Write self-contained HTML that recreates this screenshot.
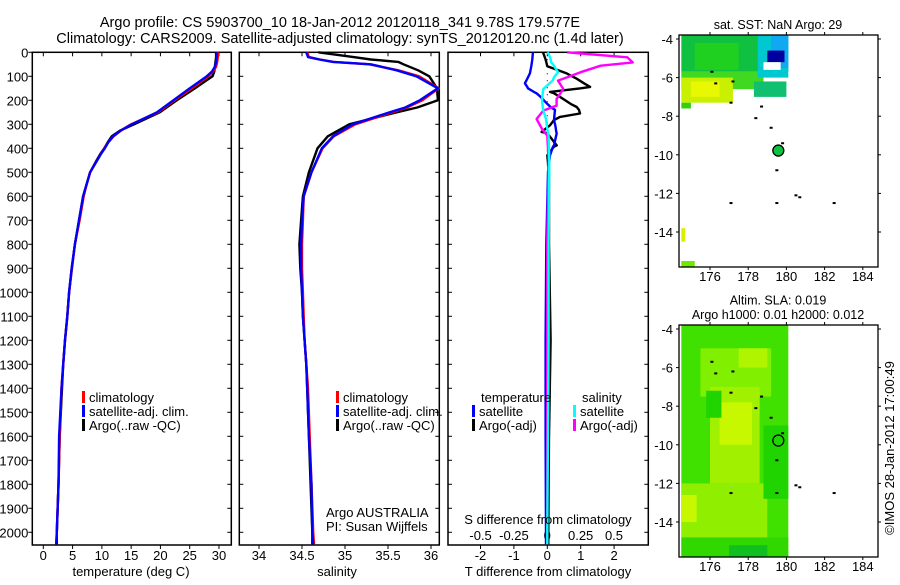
<!DOCTYPE html>
<html><head><meta charset="utf-8">
<style>
html,body{margin:0;padding:0;background:#fff;}
body{width:900px;height:580px;overflow:hidden;font-family:"Liberation Sans",sans-serif;}
svg text{font-family:"Liberation Sans",sans-serif;fill:#000;}
</style></head>
<body>
<svg id="fig" width="900" height="580" viewBox="0 0 900 580" xmlns="http://www.w3.org/2000/svg">
<text x="340" y="27" font-size="14.5" text-anchor="middle">Argo profile: CS 5903700_10 18-Jan-2012 20120118_341 9.78S 179.577E</text>
<text x="340" y="43" font-size="14.5" text-anchor="middle">Climatology: CARS2009. Satellite-adjusted climatology: synTS_20120120.nc (1.4d later)</text>
<g id="g1"></g>
<g id="g2"></g>
<g id="g3"></g>
<g id="m1"></g>
<g id="m2"></g>
<text transform="translate(894,448) rotate(-90)" font-size="13" text-anchor="middle">©IMOS 28-Jan-2012 17:00:49</text>
</svg>
<script>
// ---- data ----
const depthTicks = [0,100,200,300,400,500,600,700,800,900,1000,1100,1200,1300,1400,1500,1600,1700,1800,1900,2000];
const depths = [0,20,40,60,80,100,150,200,250,300,325,350,375,400,425,450,500,550,600,700,800,900,1000,1100,1200,1300,1400,1600,1800,2000,2050];
const tempSat = [29.6,29.6,29.5,29.3,28.8,27.9,25.0,22.2,19.4,15.1,13.3,11.9,11.1,10.5,9.8,9.2,8.0,7.4,6.8,6.1,5.4,4.85,4.4,4.1,3.7,3.4,3.1,2.7,2.6,2.3,2.2];
const tempClim = [29.8,29.8,29.7,29.5,29.0,28.2,25.4,22.4,19.6,15.0,13.3,12.0,11.1,10.4,9.8,9.2,8.0,7.4,6.9,6.2,5.4,4.9,4.4,4.1,3.7,3.4,3.1,2.8,2.6,2.3,2.2];
const tempArgo = [29.5,29.5,29.4,29.3,29.2,28.9,25.9,22.8,19.9,15.5,13.2,11.7,11.0,10.4,9.7,9.1,8.0,7.4,6.8,6.1,5.4,4.85,4.4,4.1,3.7,3.4,3.2,2.8,2.6,2.3,2.3];
const salDepths = [0,20,30,40,50,75,100,150,200,230,250,300,350,400,500,600,700,800,900,1000,1100,1200,1300,1400,1600,1800,2000,2050];
const salSat = [34.55,34.57,34.7,34.86,35.3,35.6,35.83,36.08,35.87,35.7,35.52,35.09,34.86,34.73,34.61,34.52,34.50,34.49,34.49,34.50,34.51,34.53,34.55,34.56,34.58,34.61,34.62,34.63];
const salClim = [34.56,34.58,34.71,34.87,35.28,35.62,35.86,36.09,35.9,35.72,35.55,35.12,34.87,34.74,34.61,34.52,34.51,34.50,34.50,34.51,34.52,34.53,34.55,34.57,34.59,34.61,34.63,34.64];
const salArgo = [34.69,35.1,35.3,35.62,35.68,35.85,35.98,36.07,36.08,35.84,35.6,35.05,34.8,34.68,34.58,34.51,34.49,34.47,34.48,34.50,34.51,34.53,34.55,34.56,34.58,34.60,34.62,34.62];
const diffDepths = [0,30,58,88,110,129,144,150,165,171,186,215,228,240,255,269,282,304,332,337,388,393,429,504,800,1200,1600,2000,2050];
const tDiffSat = [-0.43,-0.45,-0.48,-0.52,-0.6,-0.67,-0.6,-0.58,-0.4,-0.32,-0.2,0,0.1,0.23,0.22,0.21,0.2,0.24,0.27,0.28,0.2,0.17,0.08,0.02,-0.03,-0.05,-0.05,-0.04,-0.04];
const tDiffArgo = [-0.13,-0.05,0,0.58,0.88,1.1,1.28,1.0,0.08,0.2,0.38,0.7,0.88,0.95,0.98,0.38,0.2,0.08,-0.17,0.0,0.28,0.2,0.0,0.05,0.05,0.1,0.05,0.03,0.03];
const sDiffDepths = [0,7,21,42,56,83,104,118,153,194,222,243,278,319,347,450,800,1200,2000,2050];
const sDiffArgo = [0.15,0.3,0.6,0.64,0.4,0.25,0.15,0.08,0.12,0.07,0.07,-0.03,-0.08,-0.04,0,0.01,0.0,0.0,0.0,0.0];
const sDiffSat = [0,0.01,0.02,0.03,0.05,0.08,0.05,0.04,-0.03,-0.04,-0.035,-0.03,-0.01,0,0.01,0.015,0.01,0.01,0.0,0.0];
const tTicks1 = [0,5,10,15,20,25,30];
const sTicks2 = [34,34.5,35,35.5,36];
const sTickLabels2 = ["34","34.5","35","35.5","36"];
const tTicks3 = [-2,-1,0,1,2];
const sTicks3 = [-0.5,-0.25,0,0.25,0.5];
const sTickLabels3 = ["-0.5","-0.25","0","0.25","0.5"];
const lonTicks = [176,178,180,182,184];
const latTicks = [-4,-6,-8,-10,-12,-14];

const NS = "http://www.w3.org/2000/svg";
function mk(parent, tag, attrs, txt){
  const e = document.createElementNS(NS, tag);
  for (const k in attrs) e.setAttribute(k, attrs[k]);
  if (txt !== undefined) e.textContent = txt;
  parent.appendChild(e);
  return e;
}
const TOP = 52.3, BOT = 545;
function yD(d){ return TOP + d*0.24; }

function frame(g, x0, x1, name){
  const r = mk(g,'rect',{x:x0,y:TOP,width:x1-x0,height:BOT-TOP,fill:'none',stroke:'#000','stroke-width':1.5});
  
  
}
function depthTickMarks(g, x0, x1, labels){
  depthTicks.forEach(d=>{
    const y = yD(d);
    const t = mk(g,'line',{x1:x1-4,y1:y,x2:x1,y2:y,stroke:'#000','stroke-width':1});
    
    
    const t2 = mk(g,'line',{x1:x0,y1:y,x2:x0+(labels?0:4),y2:y,stroke:'#000','stroke-width':1});
    
    
    if (labels){
      const o = mk(g,'line',{x1:x0-4,y1:y,x2:x0,y2:y,stroke:'#000','stroke-width':1});
      
      
      const l = mk(g,'text',{x:x0-4,y:y+5,'font-size':13,'text-anchor':'end'}, String(d));
      
      
    }
  });
}
function xTicks(g, vals, labels, fx, yLab){
  vals.forEach((v,i)=>{
    const x = fx(v);
    const a = mk(g,'line',{x1:x,y1:TOP,x2:x,y2:TOP+4,stroke:'#000'});
    
    
    const b = mk(g,'line',{x1:x,y1:BOT,x2:x,y2:BOT+4,stroke:'#000'});
    
    
    const l = mk(g,'text',{x:x,y:yLab,'font-size':13,'text-anchor':'middle'}, labels[i]);
    
    
  });
}
function line(g, xs, ds, fx, color, name, w){
  const pts = xs.map((v,i)=> fx(v).toFixed(1)+','+yD(ds[i]).toFixed(1)).join(' ');
  const p = mk(g,'polyline',{points:pts,fill:'none',stroke:color,'stroke-width':w||2.4,'stroke-linejoin':'round'});
  
  
}
function legend(g, x, y, color, label){
  const b = mk(g,'rect',{x:x,y:y-11,width:3,height:12,fill:color});
  
  
  const t = mk(g,'text',{x:x+7,y:y,'font-size':13}, label);
  
  
}

// Panel 1: temperature
const g1 = document.getElementById('g1');
const fx1 = v => 43.3 + v*5.856;
frame(g1, 32.3, 231.3, 'temperature-frame');
depthTickMarks(g1, 32.3, 231.3, true);
xTicks(g1, tTicks1, tTicks1.map(String), fx1, 560);
line(g1, tempArgo, depths, fx1, '#000', 'temperature-argo-line');
line(g1, tempClim, depths, fx1, '#f00', 'temperature-climatology-line');
line(g1, tempSat, depths, fx1, '#00f', 'temperature-satellite-line');
legend(g1, 82, 402, '#f00', 'climatology');
legend(g1, 82, 416, '#00f', 'satellite-adj. clim.');
legend(g1, 82, 430, '#000', 'Argo(..raw -QC)');
let t = mk(g1,'text',{x:131,y:576,'font-size':13,'text-anchor':'middle'},'temperature (deg C)');



// Panel 2: salinity
const g2 = document.getElementById('g2');
const fx2 = v => 259 + (v-34)*86;
frame(g2, 239.3, 439.3, 'salinity-frame');
depthTickMarks(g2, 239.3, 439.3, false);
xTicks(g2, sTicks2, sTickLabels2, fx2, 560);
line(g2, salArgo, salDepths, fx2, '#000', 'salinity-argo-line');
line(g2, salClim, salDepths, fx2, '#f00', 'salinity-climatology-line');
line(g2, salSat, salDepths, fx2, '#00f', 'salinity-satellite-line');
legend(g2, 336, 402, '#f00', 'climatology');
legend(g2, 336, 416, '#00f', 'satellite-adj. clim.');
legend(g2, 336, 430, '#000', 'Argo(..raw -QC)');
t = mk(g2,'text',{x:326,y:517,'font-size':13},'Argo AUSTRALIA');


t = mk(g2,'text',{x:326,y:531,'font-size':13},'PI: Susan Wijffels');


t = mk(g2,'text',{x:337,y:576,'font-size':13,'text-anchor':'middle'},'salinity');



// Panel 3: differences
const g3 = document.getElementById('g3');
const fxT = v => 547.3 + v*33.4;
const fxS = v => 547.3 + v*133.4;
frame(g3, 448, 648.3, 'difference-frame');
depthTickMarks(g3, 448, 648.3, false);
xTicks(g3, tTicks3, tTicks3.map(String), fxT, 560);
sTicks3.forEach((v,i)=>{
  const l = mk(g3,'text',{x:fxS(v),y:540,'font-size':13,'text-anchor':'middle'}, sTickLabels3[i]);
  
  
});
const zl = mk(g3,'line',{x1:fxT(0),y1:yD(0),x2:fxT(0),y2:yD(500),stroke:'#000','stroke-width':1,'stroke-dasharray':'1 6'});


line(g3, tDiffArgo, diffDepths, fxT, '#000', 'temp-diff-argo-line');
line(g3, tDiffSat, diffDepths, fxT, '#00f', 'temp-diff-satellite-line');
line(g3, sDiffArgo, sDiffDepths, fxS, '#f0f', 'sal-diff-argo-line');
line(g3, sDiffSat, sDiffDepths, fxS, '#0ff', 'sal-diff-satellite-line');
t = mk(g3,'text',{x:481,y:402,'font-size':13},'temperature');


t = mk(g3,'text',{x:582,y:402,'font-size':13},'salinity');


legend(g3, 472, 416, '#00f', 'satellite');
legend(g3, 472, 430, '#000', 'Argo(-adj)');
legend(g3, 573, 416, '#0ff', 'satellite');
legend(g3, 573, 430, '#f0f', 'Argo(-adj)');
t = mk(g3,'text',{x:548,y:524,'font-size':13,'text-anchor':'middle'},'S difference from climatology');


t = mk(g3,'text',{x:548,y:576,'font-size':13,'text-anchor':'middle'},'T difference from climatology');



// Maps
const sstPatches = [
  [174.5,-3.8,180.1,-5.7,'#10c040'],
  [174.5,-5.7,178.8,-6.6,'#40d820'],
  [174.5,-6.0,177.2,-7.3,'#c8f000'],
  [175.0,-6.2,176.5,-7.0,'#e8f800'],
  [174.5,-7.3,175.0,-7.6,'#30d010'],
  [175.2,-4.2,177.5,-5.6,'#20d020'],
  [178.5,-3.8,180.1,-6.0,'#00c8d0'],
  [179.2,-3.8,180.1,-5.5,'#10a8f0'],
  [179.0,-4.6,179.9,-5.2,'#0000a0'],
  [178.8,-5.2,179.7,-5.6,'#ffffff'],
  [178.3,-6.2,180.0,-7.0,'#10c070'],
  [174.5,-13.8,174.7,-14.5,'#d8f000'],
  [174.5,-15.5,175.2,-15.8,'#70e800']
];
const slaPatches = [
  [174.5,-3.8,180.1,-15.8,'#40e000'],
  [175.5,-5.0,179.2,-7.5,'#80f000'],
  [177.5,-5.0,179.0,-6.0,'#b0f400'],
  [176.0,-7.0,178.6,-12.0,'#a0f000'],
  [176.5,-7.8,178.2,-10.0,'#c8f800'],
  [174.5,-12.0,179.0,-14.8,'#90ee00'],
  [174.5,-12.6,175.3,-14.0,'#c8f800'],
  [178.8,-9.0,180.1,-12.8,'#20d400'],
  [174.5,-14.8,180.1,-15.8,'#30d800'],
  [177.0,-15.2,179.0,-15.8,'#10c020'],
  [175.8,-7.2,176.6,-8.6,'#20d400']
];
const islandLon = [176.1,176.3,177.2,177.1,178.4,178.7,179.2,179.8,179.5,180.5,180.7,182.5,177.1,179.5];
const islandLat = [-5.7,-6.3,-6.2,-7.3,-8.1,-7.5,-8.6,-9.4,-10.8,-12.1,-12.2,-12.5,-12.5,-12.5];
const argoLon = 179.577, argoLat = -9.78;

function drawMap(id, top, patches, filled, title){
  const g = document.getElementById(id);
  const L=679, R=878, T=top, B=top+232;
  const fx = lon => 710 + (lon-176)*19.1;
  const fy = lat => top+4 + (-4-lat)*19.3;
  patches.forEach(p=>{
    const r = mk(g,'rect',{x:fx(p[0]),y:Math.max(T,fy(p[1])),width:fx(p[2])-fx(p[0]),height:Math.min(B,fy(p[3]))-Math.max(T,fy(p[1])),fill:p[4]});
    
    
  });
  islandLon.forEach((lo,i)=>{
    const r = mk(g,'rect',{x:fx(lo)-1.5,y:fy(islandLat[i])-1,width:3,height:2,fill:'#000'});
    
    
  });
  const c = mk(g,'circle',{cx:fx(argoLon),cy:fy(argoLat),r:5.5,fill:filled?'#10c040':'none',stroke:'#000','stroke-width':1.3});
  
  
  const f = mk(g,'rect',{x:L,y:T,width:R-L,height:B-T,fill:'none',stroke:'#000','stroke-width':1.3});
  
  
  lonTicks.forEach(lo=>{
    const x = fx(lo);
    const a = mk(g,'line',{x1:x,y1:T-3,x2:x,y2:T,stroke:'#000'});
    
    
    const b = mk(g,'line',{x1:x,y1:B,x2:x,y2:B+3,stroke:'#000'});
    
    
    const l = mk(g,'text',{x:x,y:B+14,'font-size':13,'text-anchor':'middle'}, String(lo));
    
    
  });
  latTicks.forEach(la=>{
    const y = fy(la);
    const a = mk(g,'line',{x1:L-3,y1:y,x2:L,y2:y,stroke:'#000'});
    
    
    const b = mk(g,'line',{x1:R,y1:y,x2:R+3,y2:y,stroke:'#000'});
    
    
    const l = mk(g,'text',{x:L-6,y:y+5,'font-size':13,'text-anchor':'end'}, String(la));
    
    
  });
  title.forEach((s,i)=>{
    const l = mk(g,'text',{x:778,y:T-6-(title.length-1-i)*14.5,'font-size':12.5,'text-anchor':'middle'}, s);
    
    
  });
}
drawMap('m1', 35, sstPatches, true, ['sat. SST: NaN Argo: 29']);
drawMap('m2', 325, slaPatches, false, ['Altim. SLA: 0.019','Argo h1000: 0.01 h2000: 0.012']);
</script>
</body></html>
